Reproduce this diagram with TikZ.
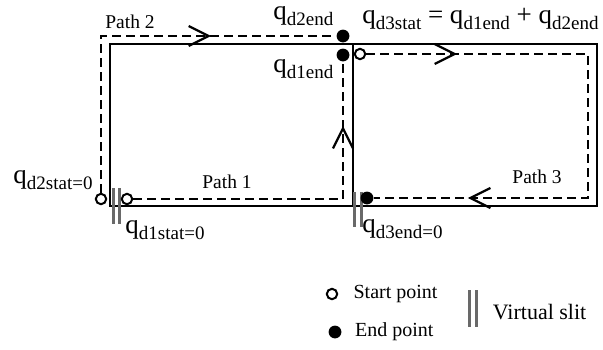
\documentclass[tikz,border=0pt]{standalone}
\usepackage{fontspec}
\setmainfont{Liberation Serif}
\usepackage{tikz}
\definecolor{slitGray}{RGB}{105,105,105}
\usetikzlibrary{arrows.meta, decorations.markings, positioning}
\tikzstyle{frame} = [draw, line width=1.25pt]
\tikzstyle{route} = [draw, line width=1.15pt, dash pattern=on 4.5pt off 2.5pt]
\tikzstyle{start} = [draw, circle, line width=1pt, fill=white, inner sep=0pt, minimum size=5.2pt]
\tikzstyle{stop} = [fill, circle, inner sep=0pt, minimum size=6.4pt]
\tikzstyle{slit} = [draw=slitGray, line width=1.5pt]
\tikzstyle{pathLabel} = [inner sep=0pt, anchor=base west, font=\fontsize{9.75}{11}\selectfont]
\tikzstyle{qLabel} = [inner sep=0pt, anchor=base west, font=\fontsize{13.5}{15}\selectfont]
\tikzstyle{keyLabel} = [inner sep=0pt, font=\fontsize{10}{12}\selectfont]
\tikzset{chevron at/.style={postaction={decorate, decoration={markings,
    mark=at position #1 with {\arrow{Straight Barb[length=10pt, width=10pt]}}}}}}
\newcommand{\qsub}[1]{q\raisebox{-3pt}{\fontsize{9.5}{11}\selectfont #1}}

\begin{document}
\begin{tikzpicture}[x=0.5pt, y=-0.5pt]
        \useasboundingbox (0,0) rectangle (603,349);
        % We start with the frame and the slits
        \draw [frame] (110,44) rectangle (597,206);
        \draw [frame] (353,44) -- (353,206);
        \draw [slit] (113,188) -- (113,224);
        \draw [slit] (119.5,188) -- (119.5,224);
        \draw [slit] (354,192) -- (354,227);
        \draw [slit] (361,192) -- (361,227);

        % Start and end points of the three paths
        \node [start] (s2) at (101,199) {};
        \node [start] (s1) at (127,199) {};
        \node [start] (s3) at (360,54) {};
        \node [stop] (e2) at (343,36) {};
        \node [stop] (e1) at (343,55) {};
        \node [stop] (e3) at (367,198) {};
        \coordinate (p3a) at (588,54);
        \coordinate (p3b) at (588,198);

        % Once the points are placed, connecting them is easy.
        \draw [route, chevron at=133.5pt] (s2) |- (e2);
        \draw [route, chevron at=141.5pt] (s1) -| (e1);
        \draw [route, chevron at=45.5pt, chevron at=243pt] (s3) -- (p3a) -- (p3b) -- (e3);

        \node [pathLabel] (path2) at (105,28) {Path 2};
        \node [pathLabel] (path1) at (202,188) {Path 1};
        \node [pathLabel] (path3) at (512,183) {Path 3};
        \node [qLabel] (qd2end) at (273,19) {\qsub{d2end}};
        \node [qLabel] (qd1end) at (273,72) {\qsub{d1end}};
        \node [qLabel] (qd3stat) at (362,23) {\qsub{d3stat} = \qsub{d1end} + \qsub{d2end}};
        \node [qLabel] (qd2stat) at (13,183) {\qsub{d2stat=0}};
        \node [qLabel] (qd1stat) at (125,233) {\qsub{d1stat=0}};
        \node [qLabel] (qd3end) at (362,232) {\qsub{d3end=0}};

        % Legend
        \node [start] (startKey) at (332,294) {};
        \node [keyLabel, right=7.5pt of startKey] (startText) {Start point};
        \node [stop] (endKey) at (335,332) {};
        \node [keyLabel, right=6.5pt of endKey] (endText) {End point};
        \coordinate (slitKey) at (472.5,308.5);
        \draw [slit] (469,290) -- (469,327);
        \draw [slit] (476,290) -- (476,327);
        \node [keyLabel, font=\fontsize{11}{13}\selectfont, right=10pt of slitKey, yshift=-1.75pt] (slitText) {Virtual slit};
    \end{tikzpicture}
\end{document}
